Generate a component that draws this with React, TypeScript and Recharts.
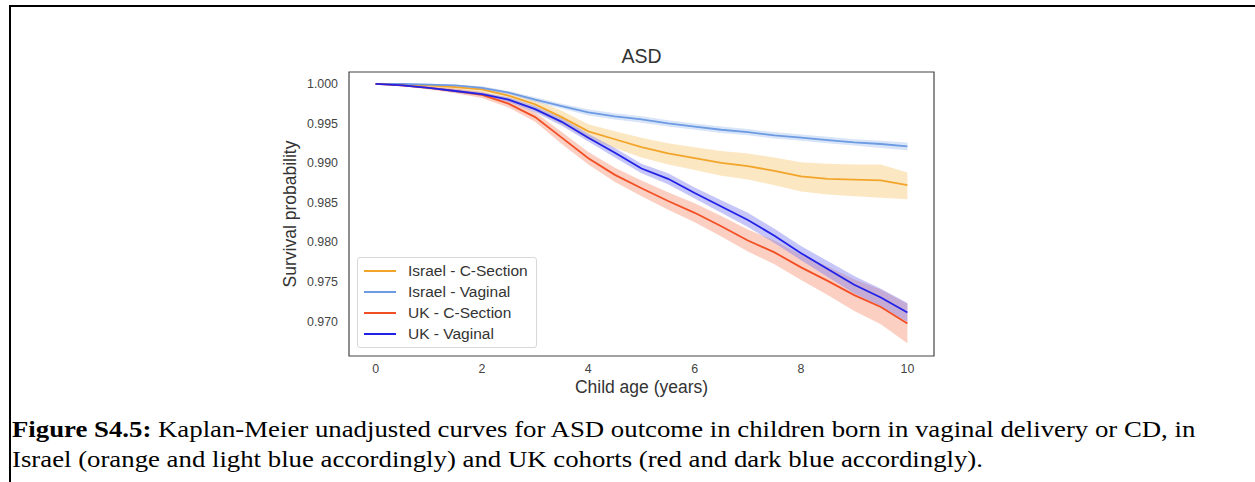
import React from "react";
import {
  ComposedChart,
  Line,
  Area,
  XAxis,
  YAxis,
  Label,
  ReferenceArea,
} from "recharts";

// age in years
const ages = [0, 0.5, 1, 1.5, 2, 2.5, 3, 3.5, 4, 4.5, 5, 5.5, 6, 6.5, 7, 7.5, 8, 8.5, 9, 9.5, 10];

const israelCsec = [1.0, 0.9999, 0.9998, 0.9996, 0.9993, 0.9985, 0.9974, 0.9958, 0.994, 0.993, 0.992, 0.9912, 0.9906, 0.99, 0.9896, 0.989, 0.9883, 0.988, 0.9879, 0.9878, 0.9872];
const israelCsecLo = [1.0, 0.9998, 0.9996, 0.9993, 0.9989, 0.9979, 0.9966, 0.9949, 0.993, 0.9919, 0.9907, 0.9898, 0.9891, 0.9884, 0.9879, 0.9872, 0.9864, 0.986, 0.9858, 0.9856, 0.9854];
const israelCsecHi = [1.0, 1.0, 0.9999, 0.9998, 0.9996, 0.999, 0.998, 0.9966, 0.9949, 0.994, 0.9932, 0.9925, 0.992, 0.9915, 0.9912, 0.9907, 0.9901, 0.9899, 0.9898, 0.9898, 0.9888];

const israelVag = [1.0, 1.0, 0.9999, 0.9998, 0.9995, 0.9989, 0.998, 0.9972, 0.9964, 0.9959, 0.9955, 0.995, 0.9946, 0.9942, 0.9939, 0.9935, 0.9932, 0.9929, 0.9926, 0.9924, 0.9921];
const israelVagLo = [1.0, 0.9999, 0.9998, 0.9997, 0.9993, 0.9987, 0.9977, 0.9969, 0.996, 0.9955, 0.9951, 0.9946, 0.9942, 0.9938, 0.9935, 0.9931, 0.9928, 0.9925, 0.9922, 0.9919, 0.9916];
const israelVagHi = [1.0, 1.0, 1.0, 0.9999, 0.9997, 0.9991, 0.9983, 0.9975, 0.9968, 0.9963, 0.9959, 0.9954, 0.995, 0.9946, 0.9943, 0.9939, 0.9936, 0.9933, 0.993, 0.9928, 0.9926];

const ukCsec = [1.0, 0.9998, 0.9995, 0.9991, 0.9986, 0.9975, 0.9958, 0.9932, 0.9906, 0.9885, 0.9868, 0.9852, 0.9837, 0.982, 0.9802, 0.9787, 0.9768, 0.9751, 0.9733, 0.9718, 0.9697];
const ukCsecLo = [1.0, 0.9997, 0.9993, 0.9988, 0.9982, 0.997, 0.9952, 0.9924, 0.9898, 0.9876, 0.9858, 0.9841, 0.9825, 0.9807, 0.9788, 0.9772, 0.9752, 0.9733, 0.9713, 0.9696, 0.9672];
const ukCsecHi = [1.0, 0.9999, 0.9997, 0.9994, 0.999, 0.998, 0.9964, 0.9939, 0.9914, 0.9894, 0.9878, 0.9863, 0.9849, 0.9833, 0.9816, 0.9802, 0.9784, 0.9769, 0.9753, 0.974, 0.9722];

const ukVag = [1.0, 0.9998, 0.9995, 0.9991, 0.9987, 0.998, 0.9968, 0.9952, 0.9932, 0.9913, 0.9893, 0.988, 0.9862, 0.9845, 0.9828, 0.9808, 0.9786, 0.9766, 0.9746, 0.973, 0.9711];
const ukVagLo = [1.0, 0.9997, 0.9994, 0.9989, 0.9985, 0.9977, 0.9964, 0.9947, 0.9927, 0.9907, 0.9887, 0.9873, 0.9855, 0.9837, 0.9819, 0.9799, 0.9777, 0.9756, 0.9735, 0.9719, 0.9699];
const ukVagHi = [1.0, 0.9999, 0.9996, 0.9993, 0.9989, 0.9983, 0.9972, 0.9957, 0.9937, 0.9919, 0.9899, 0.9887, 0.9869, 0.9853, 0.9837, 0.9817, 0.9795, 0.9776, 0.9757, 0.9741, 0.9723];

const yTicks = [0.97, 0.975, 0.98, 0.985, 0.99, 0.995, 1.0];
const xTicks = [0, 2, 4, 6, 8, 10];

const series = [
  { key: "israelCsec", name: "Israel - C-Section", color: "#f2a52a", band: "#f9c97a" },
  { key: "israelVag", name: "Israel - Vaginal", color: "#6d9be3", band: "#a9c3f0" },
  { key: "ukCsec", name: "UK - C-Section", color: "#f24f24", band: "#f7967a" },
  { key: "ukVag", name: "UK - Vaginal", color: "#2222e6", band: "#8080f0" },
];

const data = ages.map((age, i) => ({
  age,
  israelCsec: israelCsec[i],
  israelCsecBand: [israelCsecLo[i], israelCsecHi[i]],
  israelVag: israelVag[i],
  israelVagBand: [israelVagLo[i], israelVagHi[i]],
  ukCsec: ukCsec[i],
  ukCsecBand: [ukCsecLo[i], ukCsecHi[i]],
  ukVag: ukVag[i],
  ukVagBand: [ukVagLo[i], ukVagHi[i]],
}));

const sans = "'Liberation Sans', Arial, sans-serif";

function LegendBox() {
  return (
    <div
      style={{
        position: "absolute",
        left: 357,
        top: 257,
        width: 164,
        height: 85,
        border: "1px solid #d8d8d8",
        borderRadius: 3,
        background: "rgba(255,255,255,0.85)",
        padding: "2px 8px 2px 6px",
        fontFamily: sans,
        fontSize: 15.5,
        color: "#333",
      }}
    >
      {series.map((s) => (
        <div key={s.key} style={{ display: "flex", alignItems: "center", height: 21 }}>
          <span
            style={{
              display: "inline-block",
              width: 32,
              height: 2,
              background: s.color,
              marginRight: 12,
            }}
          />
          <span>{s.name}</span>
        </div>
      ))}
    </div>
  );
}

export default function App() {
  return (
    <div
      style={{
        position: "absolute",
        left: 0,
        top: 0,
        width: 1255,
        height: 482,
        background: "#fff",
        overflow: "hidden",
      }}
    >
      <div
        style={{
          position: "absolute",
          left: 9,
          top: 5,
          width: 1250,
          height: 480,
          borderTop: "2px solid #000",
          borderLeft: "2px solid #000",
        }}
      />
      <div
        style={{
          position: "absolute",
          left: 0,
          top: 0,
          width: 1255,
          height: 400,
        }}
      >
        <div
          style={{
            position: "absolute",
            left: 349,
            width: 585,
            top: 45,
            textAlign: "center",
            fontFamily: sans,
            fontSize: 19.5,
            color: "#333",
          }}
        >
          ASD
        </div>
        <ComposedChart
          width={1255}
          height={400}
          data={data}
          margin={{ top: 72, right: 321, bottom: 0, left: 280 }}
        >
          <XAxis
            dataKey="age"
            type="number"
            domain={[-0.5, 10.5]}
            ticks={xTicks}
            tickLine={false}
            axisLine={false}
            height={44}
            tick={{ fontSize: 12.4, fill: "#444", fontFamily: sans }}
          >
            <Label
              value="Child age (years)"
              position="insideBottom"
              offset={7}
              style={{ fontSize: 17.5, fill: "#333", fontFamily: sans }}
            />
          </XAxis>
          <YAxis
            type="number"
            domain={[0.9656, 1.0015]}
            ticks={yTicks}
            allowDataOverflow
            tickFormatter={(v: number) => v.toFixed(3)}
            tickLine={false}
            axisLine={false}
            width={69}
            tickMargin={5}
            tick={{ fontSize: 12.4, fill: "#444", fontFamily: sans }}
          >
            <Label
              value="Survival probability"
              angle={-90}
              position="insideLeft"
              offset={10}
              style={{ textAnchor: "middle", fontSize: 17.5, fill: "#333", fontFamily: sans }}
            />
          </YAxis>
          {series.map((s) => (
            <Area
              key={s.key + "Band"}
              dataKey={s.key + "Band"}
              type="linear"
              stroke="none"
              fill={s.band}
              fillOpacity={0.45}
              legendType="none"
              isAnimationActive={false}
              activeDot={false}
            />
          ))}
          {series.map((s) => (
            <Line
              key={s.key}
              dataKey={s.key}
              name={s.name}
              type="linear"
              stroke={s.color}
              strokeWidth={1.8}
              dot={false}
              activeDot={false}
              isAnimationActive={false}
            />
          ))}
          <ReferenceArea
            x1={-0.5}
            x2={10.5}
            y1={0.9656}
            y2={1.0015}
            fill="none"
            stroke="#444"
            strokeWidth={1.2}
            ifOverflow="visible"
          />
        </ComposedChart>
        <LegendBox />
      </div>
      <div
        style={{
          position: "absolute",
          left: 12,
          top: 415,
          fontFamily: "'Liberation Serif', 'Times New Roman', serif",
          fontSize: 22.5,
          lineHeight: "30px",
          color: "#000",
          whiteSpace: "nowrap",
          transform: "scaleX(1.19)",
          transformOrigin: "left top",
        }}
      >
        <b>Figure S4.5:</b> Kaplan-Meier unadjusted curves for ASD outcome in children born in vaginal delivery or CD, in
        <br />
        Israel (orange and light blue accordingly) and UK cohorts (red and dark blue accordingly).
      </div>
    </div>
  );
}
